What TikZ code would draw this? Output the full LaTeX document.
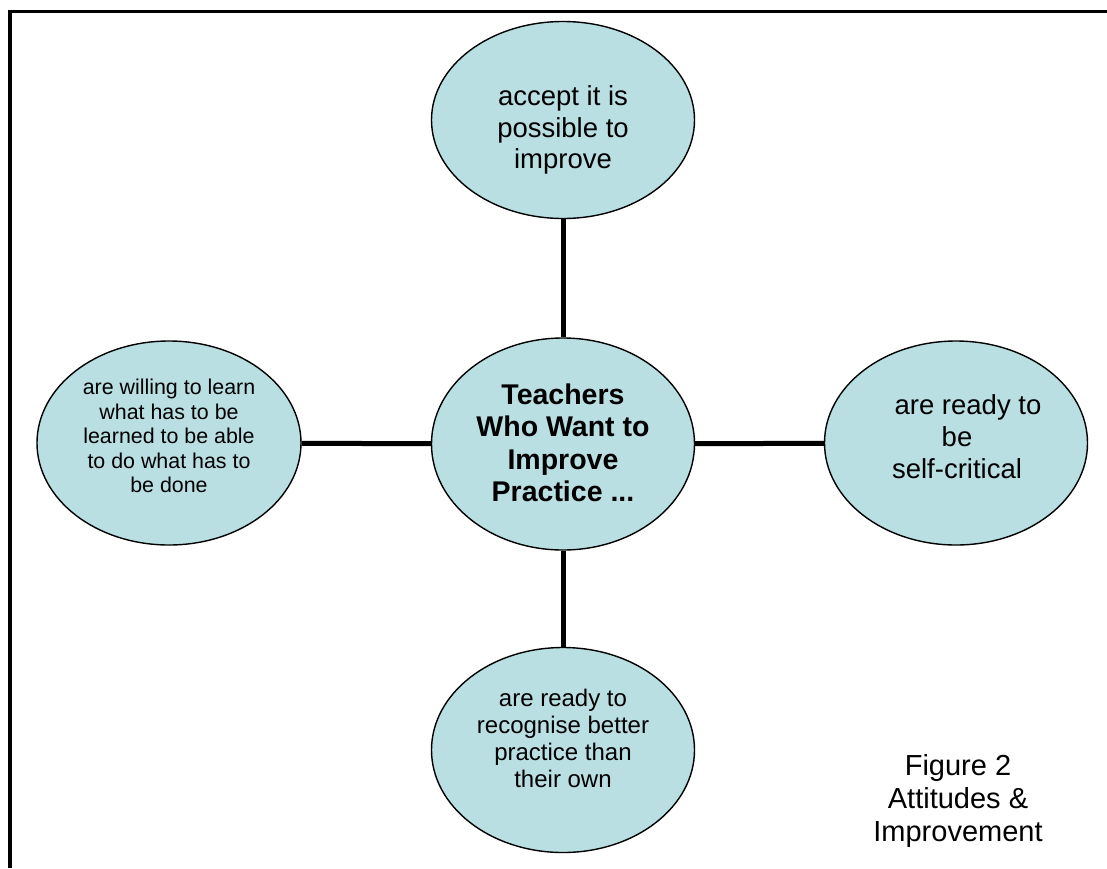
\documentclass[tikz,border=0pt]{standalone}
\usepackage{fontspec}
\setmainfont{Liberation Sans}
\usetikzlibrary{shapes.geometric}
\definecolor{ellfill}{RGB}{185,223,227}
\tikzset{
  ell/.style={ellipse, draw=black, line width=1.4pt, fill=ellfill, inner sep=0pt, minimum width=263pt},
  conn/.style={line width=5pt},
  txt/.style={align=center, inner sep=0pt, text=black},
}
\begin{document}
\begin{tikzpicture}[x=1pt,y=-1pt]
\useasboundingbox (0,0) rectangle (1107,868);
% open frame
\draw[line width=3.6pt] (9.8,868) -- (9.8,11.6) -- (1107,11.6);
% ellipses
\node[ell, minimum height=197pt] (top) at (563,120) {};
\node[ell, minimum height=212pt] (mid) at (563,444) {};
\node[ell, minimum height=204pt, minimum width=264pt] (left) at (169,443) {};
\node[ell, minimum height=204pt] (right) at (956,443) {};
\node[ell, minimum height=205pt] (bot) at (563,750) {};
% connectors
\draw[conn] (top) -- (mid);
\draw[conn] (left) -- (mid);
\draw[conn] (mid) -- (right);
\draw[conn] (mid) -- (bot);
% texts
\node[txt, font=\fontsize{27.5}{31.5}\selectfont] (toptxt) at (563,130) {accept it is\\possible to\\improve};
\node[txt, font=\fontsize{28.5}{32.5}\selectfont\bfseries] (midtxt) at (563,443) {Teachers\\Who Want to\\Improve\\Practice ...};
\node[txt, font=\fontsize{21.4}{24.5}\selectfont] (lefttxt) at (169,436) {are willing to learn\\what has to be\\learned to be able\\to do what has to\\be done};
\node[txt, font=\fontsize{27.5}{32}\selectfont] (righttxt) at (957,437) {\hspace*{22pt}are ready to\\be\\self-critical};
\node[txt, font=\fontsize{24}{27}\selectfont] (bottxt) at (563,738) {are ready to\\recognise better\\practice than\\their own};
\node[txt, font=\fontsize{29}{33}\selectfont] (caption) at (958,801) {Figure 2\\Attitudes \&\\Improvement};
\end{tikzpicture}
\end{document}
